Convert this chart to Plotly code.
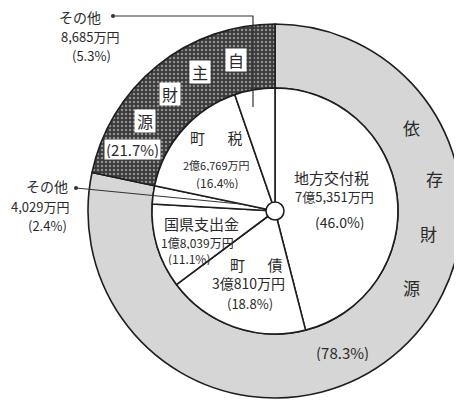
import plotly.graph_objects as go

# ---- data ----
outer_labels = ["依存財源", "自主財源"]
outer_values = [78.3, 21.7]

inner_keys = ["地方交付税", "町債", "国県支出金", "その他A", "町税", "その他B"]
inner_names = ["地方交付税", "町　債", "国県支出金", "その他", "町　税", "その他"]
inner_amounts = ["7億5,351万円", "3億810万円", "1億8,039万円", "4,029万円", "2億6,769万円", "8,685万円"]
inner_values = [46.0, 18.8, 11.1, 2.4, 16.4, 5.3]

# page body has an 8px margin: figure is sized/positioned to compensate
OFF = 8
W, H = 454, 395
FONT = "Noto Sans CJK JP"
INK = "#2a2a2a"

def px(x):
    return (x - OFF) / W

def py(y):
    return 1 - (y - OFF) / H

CX, CY = 275, 211   # centre in window pixels
R_OUT, R_IN = 187, 123

fig = go.Figure()

# outer ring
fig.add_trace(go.Pie(
    labels=outer_labels, values=outer_values, sort=False, direction="clockwise",
    rotation=0, hole=R_IN / R_OUT, textinfo="none", hoverinfo="skip", showlegend=False,
    domain=dict(x=[px(CX - R_OUT), min(1.0, px(CX + R_OUT))],
                y=[py(CY + R_OUT), py(CY - R_OUT)]),
    marker=dict(colors=["#d6d6d6", "#3c3c3c"],
                line=dict(color="#1e1e1e", width=1.6),
                pattern=dict(shape=["", "."], fgcolor=["#d6d6d6", "#8f8f8f"],
                             bgcolor=["#d6d6d6", "#3a3a3a"],
                             size=4, solidity=0.3)),
))

# inner pie
fig.add_trace(go.Pie(
    labels=inner_keys, values=inner_values, sort=False, direction="clockwise",
    rotation=0, textinfo="none", hoverinfo="skip", showlegend=False,
    domain=dict(x=[px(CX - R_IN), px(CX + R_IN)],
                y=[py(CY + R_IN), py(CY - R_IN)]),
    marker=dict(colors=["#ffffff"] * len(inner_values),
                line=dict(color="#1e1e1e", width=1.6)),
))

shapes = []
# centre circle
shapes.append(dict(type="circle", xref="paper", yref="paper",
                   x0=px(CX - 9), x1=px(CX + 9), y0=py(CY + 9), y1=py(CY - 9),
                   fillcolor="white", line=dict(color="#1e1e1e", width=1.6)))
# leader lines
shapes.append(dict(type="path", xref="paper", yref="paper",
                   path=f"M {px(113)} {py(16)} L {px(253)} {py(16)} L {px(253)} {py(107)}",
                   line=dict(color="#333", width=1.2)))
shapes.append(dict(type="path", xref="paper", yref="paper",
                   path=f"M {px(76)} {py(188)} L {px(240)} {py(204)}",
                   line=dict(color="#333", width=1.2)))
for (cx, cy) in [(113, 16), (76, 188)]:
    shapes.append(dict(type="circle", xref="paper", yref="paper",
                       x0=px(cx - 2), x1=px(cx + 2), y0=py(cy + 2), y1=py(cy - 2),
                       fillcolor="#333", line=dict(width=0)))

ann = []
def T(x, y, text, size=12, **kw):
    kw.setdefault("height", round(size * 1.12))
    ann.append(dict(x=px(x), y=py(y), xref="paper", yref="paper", text=text,
                    showarrow=False, xanchor="center", yanchor="middle",
                    font=dict(family=FONT, size=size, color=INK), **kw))

def spaced(name):
    return name.replace("\u3000", "\u3000\u2002")

# inner labels
T(331, 177, inner_names[0], 15)
T(334, 196, inner_amounts[0], 13)
T(340, 222, f"({inner_values[0]:.1f}%)", 14)

T(256, 264, spaced(inner_names[1]), 15)
T(248, 283, inner_amounts[1], 14)
T(250, 303, f"({inner_values[1]:.1f}%)", 13)

T(201, 223, inner_names[2], 15)
T(197, 243, inner_amounts[2], 12)
T(189, 258, f"({inner_values[2]:.1f}%)", 12)

T(216, 137, spaced(inner_names[4]), 15)
T(216, 165, inner_amounts[4], 11)
T(217, 183, f"({inner_values[4]:.1f}%)", 12)

T(47, 186, inner_names[3], 14)
T(40, 206, inner_amounts[3], 13)
T(47, 225.5, f"({inner_values[3]:.1f}%)", 13)

T(80, 17, inner_names[5], 14)
T(90, 37, inner_amounts[5], 13)
T(91, 56, f"({inner_values[5]:.1f}%)", 13)

# outer ring labels: 依存財源 (vertical along ring)
dep = outer_labels[0]
for ch, (x, y) in zip(dep, [(411, 127), (434, 178), (428, 233), (411, 287)]):
    T(x, y, ch, 17)
T(342, 352, f"({outer_values[0]:.1f}%)", 15)

own = outer_labels[1]
for ch, (x, y) in zip(own, [(236, 60), (200, 72), (170, 94), (145, 121)]):
    T(x, y, ch, 16, bgcolor="white", borderpad=2)
T(132, 149, f"({outer_values[1]:.1f}%)", 15, bgcolor="white", borderpad=1)

fig.update_layout(width=W, height=H, margin=dict(l=0, r=0, t=0, b=0),
                  paper_bgcolor="white", plot_bgcolor="white",
                  shapes=shapes, annotations=ann, showlegend=False)

fig.write_html("out.html")
